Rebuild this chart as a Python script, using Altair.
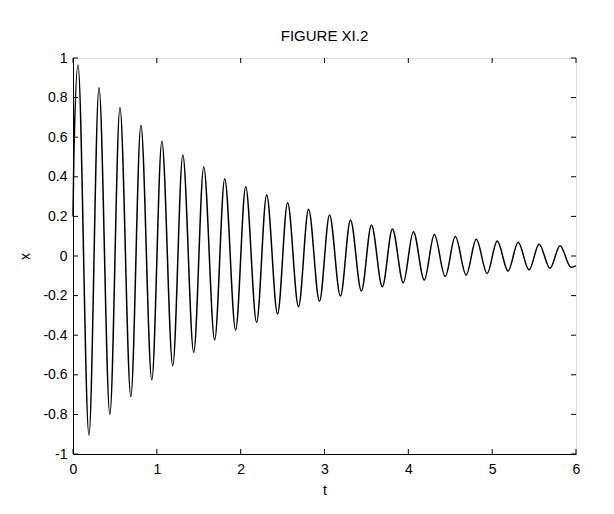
import altair as alt
import pandas as pd

# values
t_start = [0.0, 0.01]
x_start = [0.2, 0.5]

t_peaks = [0.06, 0.31, 0.56, 0.81, 1.06, 1.31, 1.56, 1.81, 2.06, 2.31, 2.56, 2.81,
           3.06, 3.31, 3.56, 3.81, 4.06, 4.31, 4.56, 4.81, 5.06, 5.31, 5.56, 5.81]
x_peaks = [0.965, 0.85, 0.75, 0.66, 0.58, 0.51, 0.45, 0.39, 0.35, 0.308, 0.269, 0.236,
           0.207, 0.182, 0.157, 0.136, 0.123, 0.108, 0.098, 0.084, 0.076, 0.069, 0.059, 0.052]

t_troughs = [0.19, 0.44, 0.69, 0.94, 1.19, 1.44, 1.69, 1.94, 2.19, 2.44, 2.69, 2.94,
             3.19, 3.44, 3.69, 3.94, 4.19, 4.44, 4.69, 4.94, 5.19, 5.44, 5.69, 5.94]
x_troughs = [-0.905, -0.80, -0.71, -0.626, -0.554, -0.487, -0.424, -0.374, -0.335, -0.293,
             -0.256, -0.229, -0.202, -0.177, -0.155, -0.135, -0.121, -0.104, -0.096,
             -0.088, -0.076, -0.07, -0.062, -0.057]

t_end = [6.0]
x_end = [-0.05]

x_ticks = [0, 1, 2, 3, 4, 5, 6]
y_ticks = [-1, -0.8, -0.6, -0.4, -0.2, 0, 0.2, 0.4, 0.6, 0.8, 1]

df = pd.DataFrame({
    "t": t_start + t_peaks + t_troughs + t_end,
    "x": x_start + x_peaks + x_troughs + x_end,
}).sort_values("t")

W, H = 503, 396
FONT = "Liberation Sans"
FS = 14

xs = alt.Scale(domain=[0, 6], nice=False, zero=False)
ys = alt.Scale(domain=[-1, 1], nice=False, zero=False)

x_axis = alt.Axis(values=x_ticks, ticks=False, grid=False, format="d",
                  labelOverlap=False, labelFlush=False,
                  labelPadding=8, labelFontSize=FS, labelFont=FONT,
                  titleFontSize=FS, titleFont=FONT, titleFontWeight="normal",
                  titleY=36, titleBaseline="middle",
                  domainColor="black", labelColor="black", titleColor="black")
y_axis = alt.Axis(values=y_ticks, ticks=False, grid=False,
                  labelExpr="toString(round(datum.value*10)/10)",
                  labelOverlap=False, labelFlush=False,
                  labelPadding=6, labelFontSize=FS, labelFont=FONT,
                  titleFontSize=FS, titleFont=FONT, titleFontWeight="normal",
                  titleX=-48, titleY=H / 2, titleBaseline="middle",
                  domainColor="black", labelColor="black", titleColor="black")

line = alt.Chart(df).mark_line(color="black", strokeWidth=1.5, interpolate="monotone").encode(
    x=alt.X("t:Q", scale=xs, title="t", axis=x_axis),
    y=alt.Y("x:Q", scale=ys, title="x", axis=y_axis),
)

xt = pd.DataFrame({"t": x_ticks})
yt = pd.DataFrame({"x": y_ticks})

tick_bottom = alt.Chart(xt).mark_rule(color="black", strokeWidth=1).encode(
    x=alt.X("t:Q", scale=xs, title="t", axis=x_axis), y=alt.value(H), y2=alt.value(H - 5))
tick_top = alt.Chart(xt).mark_rule(color="black", strokeWidth=1).encode(
    x=alt.X("t:Q", scale=xs, title="t", axis=x_axis), y=alt.value(0), y2=alt.value(5))
tick_left = alt.Chart(yt).mark_rule(color="black", strokeWidth=1).encode(
    y=alt.Y("x:Q", scale=ys, title="x", axis=y_axis), x=alt.value(0), x2=alt.value(5))
tick_right = alt.Chart(yt).mark_rule(color="black", strokeWidth=1).encode(
    y=alt.Y("x:Q", scale=ys, title="x", axis=y_axis), x=alt.value(W), x2=alt.value(W - 5))

chart = alt.layer(line, tick_bottom, tick_top, tick_left, tick_right).properties(
    width=W, height=H,
    title=alt.TitleParams("FIGURE XI.2", fontSize=15, font=FONT, fontWeight="normal",
                          color="black", offset=7),
    autosize=alt.AutoSizeParams(type="none"),
    padding={"left": 65, "top": 50, "right": 30, "bottom": 52},
).configure_view(stroke="black", strokeWidth=1).configure_axis(
    labelOverlap=False
).configure(background="white")

chart.save("out.html", embed_options={"renderer": "svg", "actions": False})
